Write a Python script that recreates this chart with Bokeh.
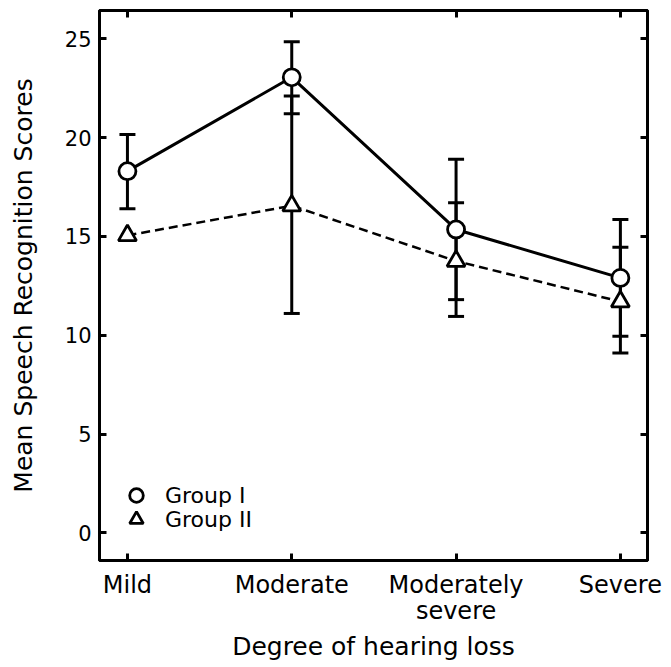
from bokeh.plotting import figure
from bokeh.models import (ColumnDataSource, Whisker, TeeHead, LinearAxis,
                          FixedTicker, Range1d, Legend, LegendItem)
from bokeh.embed import file_html
from bokeh.resources import INLINE

# ---- data ----
categories = ["Mild", "Moderate", "Moderately\nsevere", "Severe"]
y_ticks = [0, 5, 10, 15, 20, 25]

g1_mean = [18.3, 23.05, 15.35, 12.9]
g1_upper = [20.15, 24.85, 18.9, 15.85]
g1_lower = [16.4, 21.2, 11.8, 9.95]

nan = float("nan")
g2_mean = [15.05, 16.55, 13.75, 11.7]
g2_upper = [nan, 22.1, 16.7, 14.45]
g2_lower = [nan, 11.1, 10.95, 9.1]

FONT = "DejaVu Sans"
xs = list(range(len(categories)))

p = figure(width=671, height=667, output_backend="svg", toolbar_location=None,
           x_range=Range1d(-0.17, 3.165), y_range=Range1d(-1.4, 26.43),
           x_axis_type=None, y_axis_type=None,
           min_border_left=99, min_border_right=24, min_border_top=10,
           min_border_bottom=107)
p.xgrid.visible = False
p.ygrid.visible = False
p.outline_line_color = "black"
p.outline_line_width = 3
p.background_fill_color = "white"
p.border_fill_color = "white"


def style_axis(ax, show_labels):
    ax.axis_line_width = 3
    ax.axis_line_color = "black"
    ax.major_tick_in = 7
    ax.major_tick_out = 0
    ax.major_tick_line_width = 3
    ax.major_tick_line_color = "black"
    ax.minor_tick_line_color = None
    ax.major_label_text_color = "black"
    ax.axis_label_text_color = "black"
    if not show_labels:
        ax.major_label_text_font_size = "1px"
        ax.major_label_text_color = None
        ax.major_label_standoff = 0


xticker = FixedTicker(ticks=xs)
yticker = FixedTicker(ticks=y_ticks)

xb = LinearAxis(ticker=xticker, axis_label="Degree of hearing loss")
style_axis(xb, True)
xb.major_label_overrides = {i: c for i, c in enumerate(categories)}
xb.major_label_text_font = FONT
xb.major_label_text_font_size = "24px"
xb.major_label_text_line_height = 0.95
xb.major_label_standoff = 10
xb.axis_label_text_font = FONT
xb.axis_label_text_font_size = "25px"
xb.axis_label_text_font_style = "normal"
xb.axis_label_standoff = 4
p.add_layout(xb, "below")

xt = LinearAxis(ticker=xticker)
style_axis(xt, False)
p.add_layout(xt, "above")

yl = LinearAxis(ticker=yticker, axis_label="Mean Speech Recognition Scores")
style_axis(yl, True)
yl.major_label_text_font = FONT
yl.major_label_text_font_size = "21px"
yl.major_label_standoff = 8
yl.axis_label_text_font = FONT
yl.axis_label_text_font_size = "25px"
yl.axis_label_text_font_style = "normal"
yl.axis_label_standoff = 24
p.add_layout(yl, "left")

yr = LinearAxis(ticker=yticker)
style_axis(yr, False)
p.add_layout(yr, "right")

src1 = ColumnDataSource(dict(x=xs, m=g1_mean, up=g1_upper, lo=g1_lower))
src2 = ColumnDataSource(dict(x=xs, m=g2_mean, up=g2_upper, lo=g2_lower))

p.line("x", "m", source=src1, line_color="black", line_width=3)
p.line("x", "m", source=src2, line_color="black", line_width=2.5,
       line_dash="9 5")

for src in (src1, src2):
    w = Whisker(source=src, base="x", upper="up", lower="lo",
                dimension="height", line_width=3, line_color="black",
                upper_head=TeeHead(size=16, line_width=3, line_color="black"),
                lower_head=TeeHead(size=16, line_width=3, line_color="black"),
                level="underlay")
    p.add_layout(w)

r1 = p.scatter("x", "m", source=src1, marker="circle", size=17,
               fill_color="white", line_color="black", line_width=2.8)
r2 = p.scatter("x", "m", source=src2, marker="triangle", size=18,
               fill_color="white", line_color="black", line_width=2.8)

for label, rend, yoff in (("Group I", r1, 48), ("Group II", r2, 24)):
    lg = Legend(items=[LegendItem(label=label, renderers=[rend])],
                location=(20, yoff), glyph_width=34, glyph_height=34,
                padding=0, margin=0, label_standoff=12,
                border_line_color=None, background_fill_alpha=0,
                label_text_font=FONT, label_text_font_size="22px",
                label_text_color="black")
    p.add_layout(lg, "center")

open("out.html", "w").write(file_html(p, INLINE))
